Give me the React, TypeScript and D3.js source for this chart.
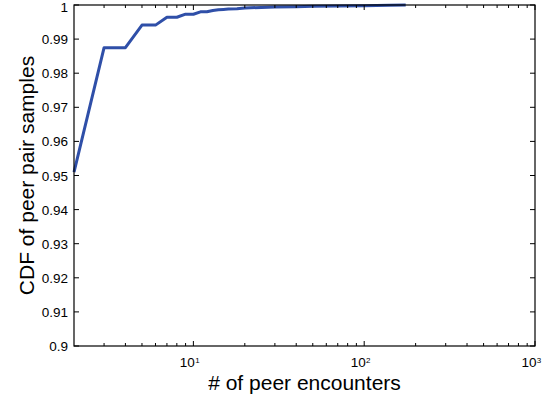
import React from "react";
import * as d3 from "d3";

const encounters = [2, 3, 4, 5, 6, 7, 8, 9, 10, 11, 12, 13, 14, 15, 16, 18, 20, 25, 30, 40, 50, 70, 100, 140, 175];
const cdf = [0.951, 0.9875, 0.9875, 0.9941, 0.9941, 0.9964, 0.9964, 0.9973, 0.9973, 0.998, 0.998, 0.9984, 0.9986, 0.9987, 0.9988, 0.9989, 0.9991, 0.9993, 0.9994, 0.9995, 0.9996, 0.9997, 0.9998, 0.9999, 1.0];
const yTicks = [0.9, 0.91, 0.92, 0.93, 0.94, 0.95, 0.96, 0.97, 0.98, 0.99, 1];
const yTickLabels = ["0.9", "0.91", "0.92", "0.93", "0.94", "0.95", "0.96", "0.97", "0.98", "0.99", "1"];
const xMajor = [10, 100, 1000];
const xMajorExp = ["1", "2", "3"];

const W = 547, H = 398;
const L = 74, R = 535, T = 5, B = 346;

export default function App() {
  const x = d3.scaleLog().domain([2, 1000]).range([L, R]);
  const y = d3.scaleLinear().domain([0.9, 1]).range([B, T]);
  const minor: number[] = [];
  for (let d = 1; d <= 100; d *= 10) for (let k = 2; k <= 9; k++) { const v = k * d; if (v > 2 && v < 1000) minor.push(v); }
  const line = d3.line<number>().x((_, i) => x(encounters[i])).y((v) => y(v));
  const font = "Liberation Sans, Arial, Helvetica, sans-serif";
  return (
    <svg width={W} height={H} style={{ position: "absolute", left: 0, top: 0 }} fontFamily={font}>
      <rect width={W} height={H} fill="#fff" />
      <path d={line(cdf) || ""} fill="none" stroke="#2F4FA8" strokeWidth={3} strokeLinejoin="round" />
      <rect x={L} y={T} width={R - L} height={B - T} fill="none" stroke="#000" strokeWidth={1.2} />
      {yTicks.map((t, i) => (
        <g key={i}>
          <line x1={L} x2={L + 5} y1={y(t)} y2={y(t)} stroke="#000" />
          <line x1={R} x2={R - 5} y1={y(t)} y2={y(t)} stroke="#000" />
          <text x={L - 6} y={Math.max(y(t) + 5, 12)} textAnchor="end" fontSize={13.5}>{yTickLabels[i]}</text>
        </g>
      ))}
      {minor.map((t, i) => (
        <g key={"m" + i}>
          <line x1={x(t)} x2={x(t)} y1={B} y2={B - 3} stroke="#000" />
          <line x1={x(t)} x2={x(t)} y1={T} y2={T + 3} stroke="#000" />
        </g>
      ))}
      {xMajor.map((t, i) => (
        <g key={"M" + i}>
          <line x1={x(t)} x2={x(t)} y1={B} y2={B - 5} stroke="#000" />
          <line x1={x(t)} x2={x(t)} y1={T} y2={T + 5} stroke="#000" />
          <text x={x(t) - 6} y={B + 21} textAnchor="middle" fontSize={13.5}>10</text>
          <text x={x(t) + 4} y={B + 17} textAnchor="middle" fontSize={8}>{xMajorExp[i]}</text>
        </g>
      ))}
      <text x={(L + R) / 2} y={390} textAnchor="middle" fontSize={21}># of peer encounters</text>
      <text transform={`translate(34,${(T + B) / 2}) rotate(-90)`} textAnchor="middle" fontSize={21}>CDF of peer pair samples</text>
    </svg>
  );
}
